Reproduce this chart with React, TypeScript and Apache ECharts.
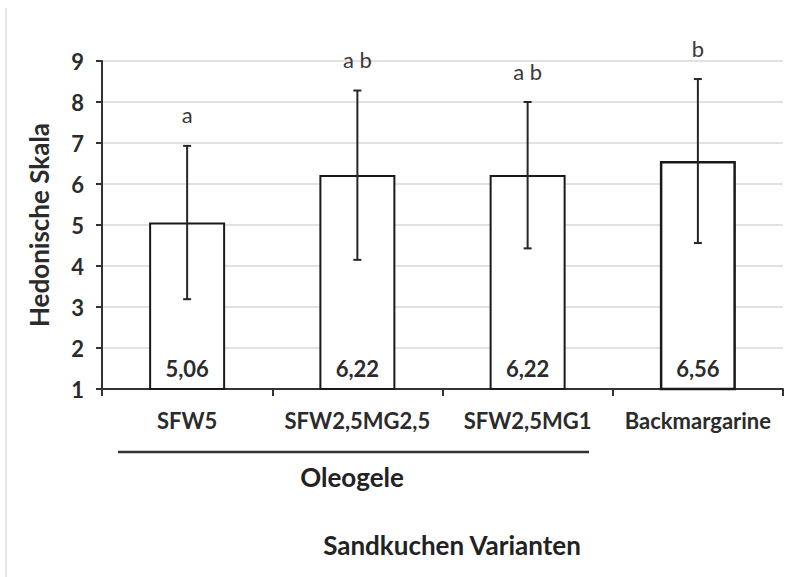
import React, { useEffect, useRef } from "react";
import * as echarts from "echarts";

const categories = ["SFW5", "SFW2,5MG2,5", "SFW2,5MG1", "Backmargarine"];
const means = [5.06, 6.22, 6.22, 6.56];
const errLow = [3.19, 4.15, 4.43, 4.56];
const errHigh = [6.93, 8.28, 8.0, 8.56];
const letters = ["a", "a b", "a b", "b"];
const yTicks = [1, 9, 1]; // min, max, interval

const FONT = "Lato";

export default function App() {
  const ref = useRef<HTMLDivElement>(null);
  useEffect(() => {
    document.body.style.margin = "0";
    const chart = echarts.init(ref.current!, null, { renderer: "svg" });
    const errData = categories.map((_, i) => [i, errLow[i], errHigh[i]]);
    chart.setOption({
      animation: false,
      backgroundColor: "#ffffff",
      grid: { left: 102, right: 13, top: 61, bottom: 188 },
      xAxis: {
        type: "category",
        data: categories,
        axisLine: { show: true, lineStyle: { color: "#333333", width: 2 } },
        axisTick: { show: true, length: 7, interval: 0, lineStyle: { color: "#333333", width: 2 } },
        axisLabel: {
          interval: 0,
          margin: 20,
          color: "#2b2b2b",
          fontFamily: FONT,
          fontWeight: "bold",
          fontSize: 22,
        },
      },
      yAxis: {
        type: "value",
        min: yTicks[0],
        max: yTicks[1],
        interval: yTicks[2],
        name: "Hedonische Skala",
        nameLocation: "middle",
        nameGap: 50,
        nameTextStyle: { color: "#2b2b2b", fontFamily: FONT, fontWeight: "bold", fontSize: 26 },
        axisLine: { show: true, lineStyle: { color: "#333333", width: 2 } },
        axisTick: { show: true, length: 6, lineStyle: { color: "#333333", width: 2 } },
        axisLabel: { margin: 18, color: "#2b2b2b", fontFamily: FONT, fontWeight: "bold", fontSize: 22 },
        splitLine: { show: true, lineStyle: { color: "#d9d9d9", width: 1.5 } },
      },
      series: [
        {
          type: "bar",
          data: means.map((v, i) => ({
            value: v,
            itemStyle: { borderWidth: i === 3 ? 2.5 : 2 },
          })),
          barWidth: 76,
          itemStyle: { color: "#ffffff", borderColor: "#1a1a1a", borderWidth: 2 },
          label: {
            show: true,
            position: "insideBottom",
            distance: 11,
            color: "#2b2b2b",
            fontFamily: FONT,
            fontWeight: "bold",
            fontSize: 22,
            formatter: (p: any) => p.value.toFixed(2).replace(".", ","),
          },
          z: 2,
        },
        {
          type: "custom",
          data: errData,
          z: 5,
          renderItem: (params: any, api: any) => {
            const x = api.value(0);
            const lo = api.coord([x, api.value(1)]);
            const hi = api.coord([x, api.value(2)]);
            const cx = lo[0];
            const cap = 4;
            const st = { stroke: "#262626", lineWidth: 2 };
            return {
              type: "group",
              children: [
                { type: "line", shape: { x1: cx, y1: lo[1], x2: cx, y2: hi[1] }, style: st },
                { type: "line", shape: { x1: cx - cap, y1: lo[1], x2: cx + cap, y2: lo[1] }, style: st },
                { type: "line", shape: { x1: cx - cap, y1: hi[1], x2: cx + cap, y2: hi[1] }, style: st },
                {
                  type: "text",
                  x: cx,
                  y: hi[1] - 31,
                  style: {
                    text: letters[params.dataIndex],
                    align: "center",
                    verticalAlign: "middle",
                    fill: "#3a3a3a",
                    fontFamily: FONT,
                    fontSize: 22,
                  },
                },
              ],
            };
          },
        },
      ],
      graphic: [
        { type: "line", shape: { x1: 6, y1: 8, x2: 6, y2: 577 }, style: { stroke: "#dedede", lineWidth: 1.5 } },
        { type: "line", shape: { x1: 118, y1: 452, x2: 589, y2: 452 }, style: { stroke: "#333333", lineWidth: 2.5 } },
        {
          type: "text",
          x: 352,
          y: 477,
          style: {
            text: "Oleogele",
            align: "center",
            verticalAlign: "middle",
            fill: "#222222",
            fontFamily: FONT,
            fontWeight: "bold",
            fontSize: 26,
          },
        },
        {
          type: "text",
          x: 452,
          y: 545,
          style: {
            text: "Sandkuchen Varianten",
            align: "center",
            verticalAlign: "middle",
            fill: "#222222",
            fontFamily: FONT,
            fontWeight: "bold",
            fontSize: 26,
          },
        },
      ],
    });
    return () => chart.dispose();
  }, []);
  return (
    <div
      ref={ref}
      style={{ position: "fixed", left: 0, top: 0, width: 796, height: 577, background: "#fff" }}
    />
  );
}
